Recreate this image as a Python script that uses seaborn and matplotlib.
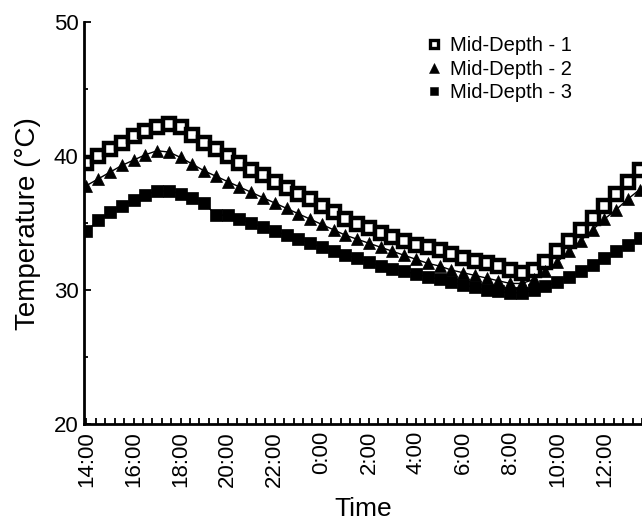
import numpy as np
import pandas as pd
import matplotlib
matplotlib.use("Agg")
import matplotlib.pyplot as plt
from matplotlib.lines import Line2D
from matplotlib.ticker import MultipleLocator
import seaborn as sns

# ---------------- Data (30 min steps from 14:00) ----------------
hours = np.arange(0, 24, 0.5)

mid_depth_1 = [39.5, 40.0, 40.5, 41.0, 41.5, 41.9, 42.2, 42.4, 42.2, 41.6,
               41.0, 40.5, 40.0, 39.5, 39.0, 38.6, 38.1, 37.6, 37.2, 36.8,
               36.3, 35.8, 35.3, 34.9, 34.6, 34.3, 34.0, 33.7, 33.4, 33.2,
               33.0, 32.7, 32.4, 32.2, 32.0, 31.8, 31.5, 31.3, 31.5, 32.1,
               32.9, 33.7, 34.5, 35.4, 36.3, 37.2, 38.1, 39.0]

mid_depth_2 = [37.8, 38.3, 38.8, 39.3, 39.7, 40.1, 40.4, 40.3, 39.9, 39.4,
               38.9, 38.5, 38.1, 37.7, 37.3, 36.9, 36.5, 36.1, 35.7, 35.3,
               34.9, 34.5, 34.1, 33.8, 33.5, 33.2, 32.9, 32.6, 32.3, 32.0,
               31.8, 31.5, 31.3, 31.1, 30.9, 30.7, 30.5, 30.5, 30.8, 31.4,
               32.1, 32.9, 33.7, 34.5, 35.3, 36.0, 36.8, 37.5]

mid_depth_3 = [34.4, 35.2, 35.8, 36.3, 36.7, 37.1, 37.4, 37.4, 37.2, 36.9,
               36.5, 35.6, 35.6, 35.3, 35.0, 34.7, 34.4, 34.1, 33.8, 33.5,
               33.2, 32.9, 32.6, 32.4, 32.1, 31.8, 31.6, 31.4, 31.2, 31.0,
               30.8, 30.6, 30.4, 30.2, 30.0, 29.9, 29.8, 29.8, 30.0, 30.3,
               30.6, 31.0, 31.4, 31.9, 32.4, 32.9, 33.4, 33.9]

series_names = ["Mid-Depth - 1", "Mid-Depth - 2", "Mid-Depth - 3"]
tick_hours = np.arange(0, 24, 2)
tick_labels = ["14:00", "16:00", "18:00", "20:00", "22:00", "0:00",
               "2:00", "4:00", "6:00", "8:00", "10:00", "12:00"]

# ---------------- Style ----------------
sns.set_style("ticks")
plt.rcParams["font.family"] = ["Liberation Sans", "DejaVu Sans"]
plt.rcParams["text.color"] = "black"
plt.rcParams["axes.labelcolor"] = "black"
plt.rcParams["xtick.color"] = "black"
plt.rcParams["ytick.color"] = "black"

fig = plt.figure(figsize=(6.42, 5.25), dpi=100)
ax = fig.add_axes([0.131, 0.192, 0.869, 0.766])

styles = [
    dict(marker="s", markerfacecolor="white", markersize=8.5, markeredgewidth=3.2),
    dict(marker="^", markerfacecolor="black", markersize=9, markeredgewidth=0.5),
    dict(marker="s", markerfacecolor="black", markersize=8.5, markeredgewidth=0.5),
]

for name, vals, st in zip(series_names, [mid_depth_1, mid_depth_2, mid_depth_3], styles):
    sns.lineplot(x=hours, y=vals, ax=ax, color="black", linewidth=1.0,
                 markeredgecolor="black", label=None, **st)

# ---------------- Axes ----------------
ax.set_xlim(-0.1, 23.6)
ax.set_ylim(20, 50)
ax.set_xticks(tick_hours)
ax.set_xticklabels(tick_labels, rotation=90, fontsize=16)
ax.xaxis.set_minor_locator(MultipleLocator(0.4))
ax.set_yticks([20, 30, 40, 50])
ax.yaxis.set_minor_locator(MultipleLocator(5))
ax.tick_params(axis="y", labelsize=16)
ax.tick_params(which="both", direction="in", color="black", width=1.3)
ax.tick_params(axis="x", which="both", length=4, pad=5)
ax.tick_params(axis="y", which="major", length=5, pad=4)
ax.tick_params(axis="y", which="minor", length=3)

sns.despine(ax=ax)
for side in ["left", "bottom"]:
    ax.spines[side].set_linewidth(2.0)
    ax.spines[side].set_color("black")

ax.set_xlabel("Time", fontsize=19, labelpad=7)
ax.set_ylabel("Temperature (°C)", fontsize=20, labelpad=9)

# legend shows markers only
handles = [Line2D([], [], linestyle="none", color="black", markeredgecolor="black",
                  **{k: (v * 0.75 if k in ("markersize", "markeredgewidth") else v)
                     for k, v in st.items()})
           for st in styles]
ax.legend(handles, series_names, loc="upper right", bbox_to_anchor=(0.9, 1.0),
          frameon=False, fontsize=14.5, handlelength=0.8, handletextpad=0.4,
          labelspacing=0.22, borderaxespad=0.3)

plt.savefig("out.png", dpi=100)
